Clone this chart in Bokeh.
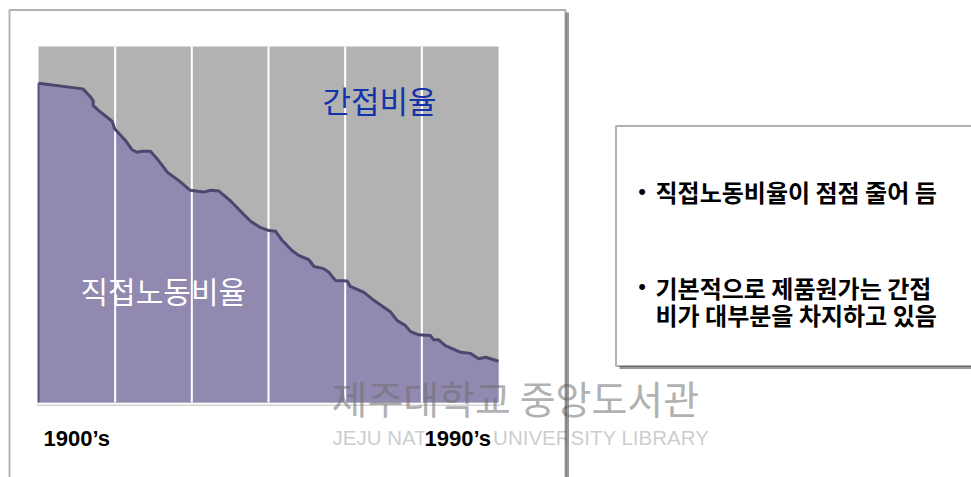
from bokeh.plotting import figure
from bokeh.models import Label, BoxAnnotation
from bokeh.embed import file_html
from bokeh.resources import INLINE

# ---------------- data ----------------
years = [1900, 1908.7, 1910.2, 1910.7, 1910.7, 1911.8, 1914.4, 1914.9, 1917.0, 1918.3,
         1919.3, 1920.3, 1921.9, 1923.2, 1925.2, 1927.4, 1929.7, 1932.3, 1933.7, 1935.3,
         1937.6, 1939.9, 1941.5, 1943.5, 1945.1, 1946.4, 1947.7, 1949.6, 1950.9, 1952.9,
         1953.9, 1955.8, 1956.8, 1958.1, 1960.4, 1961.0, 1963.6, 1965.6, 1968.9, 1970.2,
         1971.8, 1972.8, 1974.4, 1976.7, 1977.3, 1978.3, 1979.6, 1982.6, 1984.5, 1986.1,
         1987.5, 1990]
direct_labor_pct = [89.7, 88.1, 85.8, 84.8, 83.4, 82.0, 79.0, 76.9, 73.6, 71.0,
                    70.3, 70.6, 70.6, 68.5, 64.7, 62.4, 59.6, 59.1, 59.6, 59.4,
                    56.6, 53.2, 50.9, 49.1, 48.3, 48.1, 45.5, 42.7, 41.3, 40.1,
                    38.2, 37.6, 36.6, 34.3, 34.1, 32.6, 31.0, 28.7, 25.4, 23.0,
                    21.6, 19.9, 19.0, 18.8, 17.6, 17.6, 16.0, 14.1, 13.8, 12.3,
                    12.7, 11.6]
grid_years = [1915, 1930, 1945, 1960, 1975]
pct_min, pct_max = 0, 100
start_label = "1900’s"
end_label = "1990’s"
indirect_label = "간접비율"
direct_label = "직접노동비율"
bullet_lines = ["직접노동비율이 점점 줄어 듬",
                "기본적으로 제품원가는 간접",
                "비가 대부분을 차지하고 있음"]
wm_kr = "제주대학교 중앙도서관"
wm_en = "JEJU NATIONAL UNIVERSITY LIBRARY"

# ---------------- layout ----------------
W, H = 971, 477
plot_left, plot_right = 38, 498      # canvas px for first/last year
plot_top, plot_bottom = 46, 402      # canvas px (top-down) for 100% / 0%
ppx = (plot_right - plot_left) / (years[-1] - years[0])
ppy = (plot_bottom - plot_top) / (pct_max - pct_min)
x_start = years[0] - plot_left / ppx
x_end = x_start + W / ppx
y_end = pct_max + plot_top / ppy
y_start = pct_min - (H - plot_bottom) / ppy

p = figure(width=W, height=H, x_range=(x_start, x_end), y_range=(y_start, y_end),
           output_backend="svg", toolbar_location=None, min_border=0,
           x_axis_location=None, y_axis_location=None)
p.grid.visible = False
p.outline_line_color = None
p.background_fill_color = "white"
p.border_fill_color = "white"

KR = "Noto Sans CJK KR"

def sy(page_y):
    return H - page_y

def box(l, r, t, b, **kw):
    return BoxAnnotation(left=l, right=r, top=sy(t), bottom=sy(b),
                         left_units="screen", right_units="screen",
                         top_units="screen", bottom_units="screen", **kw)

# panel fills / shadows
p.add_layout(box(12, 568.5, 12, 500, fill_color="#999999", fill_alpha=1, line_color=None, level="underlay"))
p.add_layout(box(9, 565, 9.5, 500, fill_color="white", fill_alpha=1, line_color=None, level="underlay"))
p.add_layout(box(619, 995, 128.5, 368.5, fill_color="#999999", fill_alpha=1, line_color=None, level="underlay"))
p.add_layout(box(615.5, 990, 125.5, 365.5, fill_color="white", fill_alpha=1, line_color=None, level="underlay"))

# chart
p.quad(left=years[0], right=years[-1], bottom=pct_min, top=pct_max,
       fill_color="#B2B2B2", line_color=None)
p.varea(x=years, y1=[pct_min] * len(years), y2=direct_labor_pct,
        fill_color="#9189B0", fill_alpha=1)
p.segment(x0=years[0], y0=pct_min, x1=years[0], y1=direct_labor_pct[0],
          line_color="#5A5080", line_width=2)
p.segment(x0=grid_years, y0=[pct_min] * len(grid_years), x1=grid_years,
          y1=[pct_max] * len(grid_years), line_color="white", line_width=2)
p.line(years, direct_labor_pct, line_color="#4F4670", line_width=3, line_join="round")

# baseline
p.add_layout(box(36, 500, 404, 405.5, fill_color="#D4D4D4", fill_alpha=1, line_color=None))

# watermark
p.add_layout(Label(x=331, y=sy(396), x_units="screen", y_units="screen", text=wm_kr,
                   text_font=KR, text_font_size="39px", text_color="#6E6E6E", text_alpha=0.55,
                   text_baseline="middle"))
p.add_layout(Label(x=332, y=sy(436.5), x_units="screen", y_units="screen", text=wm_en,
                   text_font="Liberation Sans", text_font_size="20.5px", text_color="#9A9A9A", text_alpha=0.5,
                   text_baseline="middle"))

# chart labels
p.add_layout(Label(x=322, y=sy(98.5), x_units="screen", y_units="screen", text=indirect_label,
                   text_font=KR, text_font_size="31px", text_color="#1433A8", text_baseline="middle"))
p.add_layout(Label(x=80, y=sy(289.5), x_units="screen", y_units="screen", text=direct_label,
                   text_font=KR, text_font_size="30px", text_color="white", text_baseline="middle"))
p.add_layout(Label(x=43, y=sy(438), x_units="screen", y_units="screen", text=start_label,
                   text_font="Liberation Sans", text_font_style="bold", text_font_size="22px",
                   text_color="black", text_baseline="middle"))
p.add_layout(Label(x=424, y=sy(438), x_units="screen", y_units="screen", text=end_label,
                   text_font="Liberation Sans", text_font_style="bold", text_font_size="22px",
                   text_color="black", text_baseline="middle",
                   background_fill_color="white", background_fill_alpha=1))

# bullet text
for by in [191, 285.5]:
    p.add_layout(Label(x=641.5, y=sy(by), x_units="screen", y_units="screen", text="•",
                       text_font="Liberation Sans", text_font_size="22px", text_color="black",
                       text_baseline="middle", text_align="center"))
for txt, ty in zip(bullet_lines, [191, 286.5, 313.5]):
    p.add_layout(Label(x=655, y=sy(ty), x_units="screen", y_units="screen", text=txt,
                       text_font=KR, text_font_style="bold", text_font_size="24px", text_color="black",
                       text_baseline="middle"))

# panel borders (on top)
p.add_layout(box(9, 565, 9.5, 500, fill_alpha=0, line_color="black", line_width=2, level="overlay"))
p.add_layout(box(615.5, 990, 125.5, 365.5, fill_alpha=0, line_color="black", line_width=2, level="overlay"))

open("out.html", "w").write(file_html(p, INLINE))
